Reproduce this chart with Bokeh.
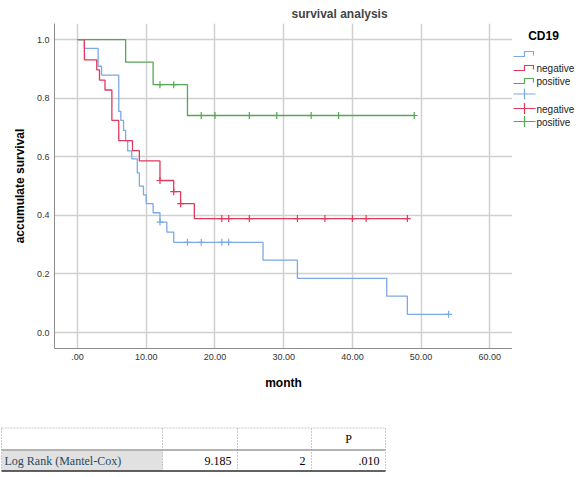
from bokeh.plotting import figure
from bokeh.layouts import column, row
from bokeh.models import Range1d, FixedTicker
from bokeh.core.properties import value
from bokeh.embed import file_html
from bokeh.resources import INLINE

# ---------------- data ----------------
blank_t = [0, 1, 3, 3.5, 6, 6.3, 6.7, 7.0, 7.3, 7.9, 8.7, 9.0, 9.6, 10, 11, 12, 13, 14, 27, 32, 45, 48, 54]
blank_s = [1.0, 0.970, 0.909, 0.879, 0.755, 0.724, 0.690, 0.655, 0.620, 0.593, 0.545, 0.500, 0.470,
           0.440, 0.409, 0.377, 0.343, 0.308, 0.247, 0.185, 0.124, 0.062, 0.062]
neg_t = [0, 1, 2.8, 3.2, 4, 5, 6, 8, 9, 12, 14, 15, 17, 48]
neg_s = [1.0, 0.931, 0.897, 0.862, 0.828, 0.724, 0.655, 0.621, 0.586, 0.519, 0.481, 0.440, 0.389, 0.389]
pos_t = [0, 7, 11, 16, 49]
pos_s = [1.0, 0.923, 0.846, 0.741, 0.741]

blank_cens_t = [12, 16, 18, 21, 22, 54]
blank_cens_s = [0.377, 0.308, 0.308, 0.308, 0.308, 0.062]
neg_cens_t = [12, 14, 15, 21, 22, 25, 32, 36, 40, 42, 48]
neg_cens_s = [0.519, 0.481, 0.440, 0.389, 0.389, 0.389, 0.389, 0.389, 0.389, 0.389, 0.389]
pos_cens_t = [12, 14, 18, 20, 25, 29, 34, 38, 49]
pos_cens_s = [0.846, 0.846, 0.741, 0.741, 0.741, 0.741, 0.741, 0.741, 0.741]

x_ticks = [0, 10, 20, 30, 40, 50, 60]
x_tick_labels = [".00", "10.00", "20.00", "30.00", "40.00", "50.00", "60.00"]
y_ticks = [0.0, 0.2, 0.4, 0.6, 0.8, 1.0]
y_tick_labels = ["0.0", "0.2", "0.4", "0.6", "0.8", "1.0"]

legend_title = "CD19"
legend_labels = ["", "negative", "positive"]

table_header = ["", "", "", "P"]
table_row = ["Log Rank (Mantel-Cox)", "9.185", "2", ".010"]

BLUE = "#7aa9e6"
RED = "#e0395e"
GREEN = "#55a655"
colors = [BLUE, RED, GREEN]
FONT = "Liberation Sans"
SERIF = "Liberation Serif"

FRAME_TOP, FRAME_BOTTOM = 23, 57

# ---------------- main plot ----------------
p = figure(width=512, height=405, x_range=Range1d(-3.35, 63.3), y_range=Range1d(-0.0545, 1.055),
           output_backend="svg", toolbar_location=None,
           min_border_left=54, min_border_right=0, min_border_bottom=FRAME_BOTTOM,
           min_border_top=FRAME_TOP)
p.outline_line_color = None
p.title.text = "survival analysis"
p.title.align = "left"
p.title.offset = 237
p.title.text_font = FONT
p.title.text_font_size = "12px"
p.title.text_font_style = "bold"
p.title.standoff = 6

for ax in (p.xaxis[0], p.yaxis[0]):
    ax.axis_line_color = "#8c8c8c"
    ax.major_tick_line_color = None
    ax.minor_tick_line_color = None
    ax.major_tick_out = 0
    ax.major_tick_in = 0
    ax.minor_tick_out = 0
    ax.major_label_text_font = FONT
    ax.major_label_text_font_size = "9px"
    ax.major_label_text_color = "#333333"
    ax.major_label_standoff = 5
    ax.axis_label_text_font = FONT
    ax.axis_label_text_font_size = "12px"
    ax.axis_label_text_font_style = "bold"
    ax.axis_label_text_color = "#000000"

p.xaxis.ticker = FixedTicker(ticks=x_ticks)
p.xaxis.major_label_overrides = dict(zip(x_ticks, x_tick_labels))
p.yaxis.ticker = FixedTicker(ticks=y_ticks)
p.yaxis.major_label_overrides = dict(zip(y_ticks, y_tick_labels))
p.xaxis.axis_label = "month"
p.yaxis.axis_label = "accumulate survival"
p.xaxis.axis_label_standoff = 13
p.yaxis.axis_label_standoff = 7

p.xgrid.grid_line_color = "#d0d0d0"
p.ygrid.grid_line_color = "#d0d0d0"
p.xgrid.grid_line_width = 1.5
p.ygrid.grid_line_width = 1.5

for t, s, c in ((blank_t, blank_s, BLUE), (neg_t, neg_s, RED), (pos_t, pos_s, GREEN)):
    p.step(t, s, mode="after", line_color=c, line_width=1.3)

for t, s, c in ((blank_cens_t, blank_cens_s, BLUE), (neg_cens_t, neg_cens_s, RED),
                (pos_cens_t, pos_cens_s, GREEN)):
    p.scatter(t, s, marker="cross", size=7, line_color=c, line_width=1.2)

# ---------------- legend panel (frame aligned with the plot; y in page pixels) ----------------
leg = figure(width=72, height=405, x_range=Range1d(0, 72),
             y_range=Range1d(405 - FRAME_BOTTOM, FRAME_TOP),
             output_backend="svg", toolbar_location=None, min_border=0,
             min_border_top=FRAME_TOP, min_border_bottom=FRAME_BOTTOM,
             x_axis_type=None, y_axis_type=None)
leg.outline_line_color = None
leg.xgrid.visible = False
leg.ygrid.visible = False

leg.text([31], [35], text=[legend_title], text_font=value(FONT), text_font_size="12px",
         text_font_style="bold", text_align="center", text_baseline="middle", text_color="#000000")

step_rows = [54, 68, 81]
cross_rows = [93.5, 108, 121]
for yy, c, lab in zip(step_rows, colors, legend_labels):
    leg.line([1, 12, 12, 21, 21], [yy + 2, yy + 2, yy - 3, yy - 3, yy + 1], line_color=c, line_width=1.2)
    leg.text([24], [yy], text=[lab], text_font=value(FONT), text_font_size="10px",
             text_baseline="middle", text_color="#222222")
for yy, c, lab in zip(cross_rows, colors, legend_labels):
    leg.segment([1, 12], [yy, yy - 5.5], [23, 12], [yy, yy + 5.5], line_color=c, line_width=1.2)
    leg.text([24], [yy + 1], text=[lab], text_font=value(FONT), text_font_size="10px",
             text_baseline="middle", text_color="#222222")

# ---------------- statistics table ----------------
tab = figure(width=584, height=72, x_range=Range1d(0, 584), y_range=Range1d(72, 0),
             output_backend="svg", toolbar_location=None, min_border=0,
             x_axis_type=None, y_axis_type=None)
tab.outline_line_color = None
tab.xgrid.visible = False
tab.ygrid.visible = False

col_edges = [1, 162, 237, 311, 385]
top_y, mid_y, bot_y = 22.5, 44.5, 65.5
tab.quad(left=[col_edges[0]], right=[col_edges[1]], top=[mid_y + 1], bottom=[bot_y],
         fill_color="#e1e1e1", line_color=None)
tab.segment([col_edges[0]], [top_y], [col_edges[-1]], [top_y], line_color="#c8c8c8",
            line_width=1, line_dash="2 1")
tab.segment(col_edges, [top_y] * 5, col_edges, [bot_y] * 5, line_color="#c8c8c8",
            line_width=1, line_dash="2 1")
tab.segment([col_edges[0]], [mid_y], [col_edges[-1]], [mid_y], line_color="#9a9a9a", line_width=1.5)
tab.segment([col_edges[0]], [bot_y], [col_edges[-1]], [bot_y], line_color="#2e2e2e", line_width=1.5)

tab.text([(col_edges[3] + col_edges[4]) / 2], [33], text=[table_header[3]], text_font=value(SERIF),
         text_font_size="12px", text_align="center", text_baseline="middle", text_color="#010205")
tab.text([4], [55.5], text=[table_row[0]], text_font=value(SERIF), text_font_size="12px",
         text_baseline="middle", text_color="#264a60")
tab.text([e - 6 for e in col_edges[2:]], [55.5] * 3, text=table_row[1:], text_font=value(SERIF),
         text_font_size="12px", text_align="right", text_baseline="middle", text_color="#010205")

layout = column(row(p, leg), tab)
open("out.html", "w").write(file_html(layout, INLINE))
